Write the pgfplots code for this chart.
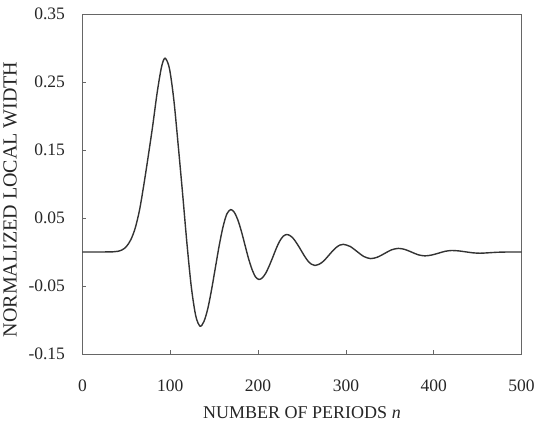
\documentclass[border=0pt]{standalone}
\usepackage{pgfplots}
\pgfplotsset{compat=1.18}
\usepackage{fontspec}
\setmainfont{Liberation Serif}
\begin{document}
\begin{tikzpicture}
\begin{axis}[
  scale only axis,
  width=439bp, height=340bp,
  xmin=0, xmax=500, ymin=-0.15, ymax=0.35,
  axis line style={draw=black!60, line width=0.9bp},
  tick style={draw=black!60, line width=0.8bp},
  tick pos=left,
  tick align=inside,
  major tick length=4bp,
  xtick={0,100,200,300,400,500},
  xticklabels={0,100,200,300,400,500},
  ytick={-0.15,-0.05,0.05,0.15,0.25,0.35},
  yticklabels={-0.15,-0.05,0.05,0.15,0.25,0.35},
  ticklabel style={font=\fontsize{17.5bp}{20bp}\selectfont, text=black!85},
  yticklabel style={xshift=-14bp},
  xticklabel style={yshift=-22bp},
  xlabel={NUMBER OF PERIODS \textit{n}},
  ylabel={NORMALIZED LOCAL WIDTH},
  xlabel style={at={(axis description cs:0.5,-0.172)}, anchor=center, font=\fontsize{18bp}{20bp}\selectfont, text=black!85},
  ylabel style={at={(axis description cs:-0.165,0.455)}, anchor=center, rotate=0, font=\fontsize{20bp}{24bp}\selectfont, text=black!85},
]
\addplot[black!80, line width=1.4bp, smooth, tension=0.5] coordinates {
(0,0) (20,0) (35,0.0003) (40,0.001) (45,0.003) (50,0.008) (55,0.018) (60,0.035)
(65,0.062) (70,0.100) (75,0.142) (80,0.186) (85,0.234) (90,0.272) (94,0.285)
(99,0.270) (104,0.224) (109,0.157) (114,0.086) (119,0.012) (124,-0.052) (129,-0.094)
(133.8,-0.109) (138.2,-0.1025) (142.6,-0.0839) (146.9,-0.0561) (151.3,-0.0233)
(155.7,0.0095) (160.1,0.0373) (164.4,0.0559) (168.8,0.0624) (172.8,0.0585)
(176.9,0.0473) (180.9,0.0307) (184.9,0.011) (188.9,-0.0087) (193,-0.0253)
(197,-0.0365) (201,-0.0404) (204.9,-0.0379) (208.9,-0.0307) (212.8,-0.0200)
(216.8,-0.0074) (220.7,0.0053) (224.6,0.0160) (228.6,0.0232) (232.5,0.0257)
(236.5,0.0240) (240.6,0.0191) (244.6,0.0117) (248.7,0.0030) (252.7,-0.0057)
(256.7,-0.0131) (260.8,-0.0180) (264.8,-0.0198) (268.8,-0.0184) (272.9,-0.0152)
(276.9,-0.0102) (280.9,-0.0043) (285,0.0017) (289,0.0067) (293,0.0101) (297,0.0113)
(304.8,0.0082) (312.6,0.0008) (320.4,-0.0066) (328.2,-0.0097) (336.1,-0.0075)
(344,-0.0022) (351.8,0.0031) (359.7,0.0053) (367.3,0.0037) (374.9,-0.0002)
(382.4,-0.0041) (390,-0.0057) (397.6,-0.0045) (405.3,-0.0018) (412.9,0.0010)
(420.5,0.0022) (428.5,0.0016) (436.6,0.0002) (444.6,-0.0012) (452.7,-0.0018)
(462,-0.0012) (472,-0.0004) (485,0) (500,0)
};
\end{axis}
\pgfresetboundingbox
\path[use as bounding box] (-82.5bp,-71bp) rectangle (460.5bp,354bp);
\end{tikzpicture}
\end{document}
